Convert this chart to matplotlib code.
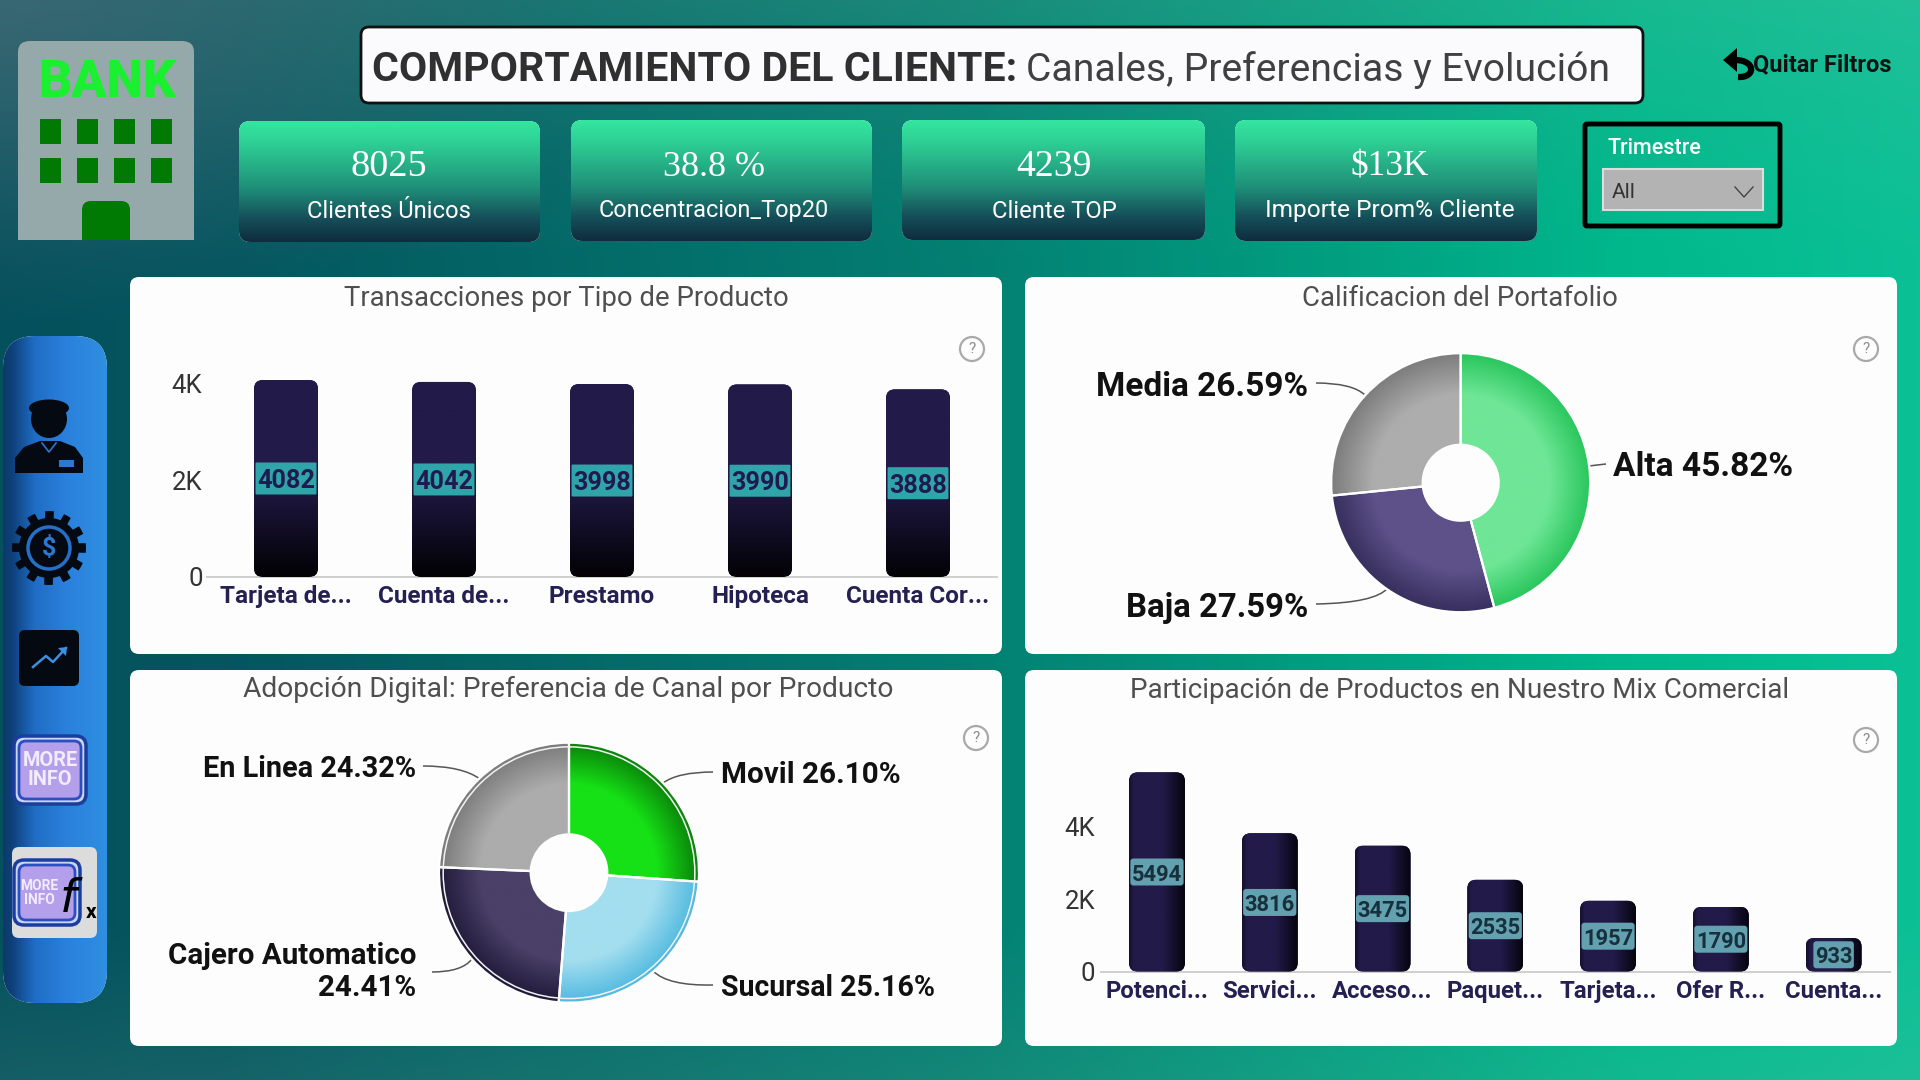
import numpy as np
import matplotlib
matplotlib.use("Agg")
import matplotlib.pyplot as plt
from matplotlib.patches import FancyBboxPatch, Circle, Ellipse, Polygon, PathPatch, Rectangle, Wedge
from matplotlib.path import Path
from matplotlib.colors import to_rgb

# ---------- data ----------
prod_cats = ["Tarjeta de...", "Cuenta de...", "Prestamo", "Hipoteca", "Cuenta Cor..."]
prod_vals = [4082, 4042, 3998, 3990, 3888]
mix_cats = ["Potenci...", "Servici...", "Acceso...", "Paquet...", "Tarjeta...", "Ofer R...", "Cuenta..."]
mix_vals = [5494, 3816, 3475, 2535, 1957, 1790, 933]
cal_names = ["Alta", "Baja", "Media"]
cal_vals = [45.82, 27.59, 26.59]
canal_names = ["Movil", "Sucursal", "Cajero Automatico", "En Linea"]
canal_vals = [26.10, 25.16, 24.41, 24.32]
kpi_values = ["8025", "38.8 %", "4239", "$13K"]
kpi_labels = ["Clientes Únicos", "Concentracion_Top20", "Cliente TOP", "Importe Prom% Cliente"]
y_ticks = [0, 2000, 4000]
y_labels = ["0", "2K", "4K"]

W, H = 1920, 1080
SANS = "Roboto"
YOFF = 3
fig = plt.figure(figsize=(W / 100, H / 100), dpi=100)
bg = fig.add_axes([0, 0, 1, 1])
bg.set_axis_off()


def rgb(c):
    return np.array(to_rgb(c))


def reset_bg():
    bg.set_xlim(0, W)
    bg.set_ylim(H, 0)


def size_for(s, width, weight="normal", family=SANS):
    t = bg.text(0, 0, s, fontsize=20, fontweight=weight, family=family)
    w = t.get_window_extent(fig.canvas.get_renderer()).width
    t.remove()
    return 20 * width / w


def T(x, y, s, **kw):
    kw.setdefault("va", "center")
    kw.setdefault("family", SANS)
    return bg.text(x, y + YOFF, s, **kw)


def stops(t, pts):
    xs = [p[0] for p in pts]
    cs = np.array([rgb(p[1]) for p in pts])
    return np.stack([np.interp(t, xs, cs[:, i]) for i in range(3)], axis=-1)


# background
xx, yy = np.meshgrid(np.linspace(0, 1, 480), np.linspace(0, 1, 270))
img = stops(xx, [(0, "#04505c"), (0.12, "#04565f"), (0.5, "#037f72"), (0.85, "#00b88c"), (1, "#0cc096")])
top = np.clip(1 - yy / 0.24, 0, 1)[..., None] ** 1.3
bot = np.clip((yy - 0.86) / 0.14, 0, 1)[..., None]
img = img + (np.array([0.55, 0.75, 0.65]) - img) * (0.16 * top + 0.12 * bot)
corner = np.clip(1 - np.hypot(xx / 0.3, yy / 0.3), 0, 1)[..., None]
img = img + (np.array([0.3, 0.42, 0.48]) - img) * 0.6 * corner
bg.imshow(np.clip(img, 0, 1), extent=[0, W, H, 0], aspect="auto", zorder=0)
reset_bg()


def rbox(x0, y0, x1, y1, r, fc="white", ec="none", lw=0, z=2):
    p = FancyBboxPatch((x0, y0), x1 - x0, y1 - y0, boxstyle=f"round,pad=0,rounding_size={r}",
                       fc=fc, ec=ec, lw=lw, zorder=z)
    bg.add_patch(p)
    return p


def grad_box(x0, y0, x1, y1, r, image, z=2):
    p = rbox(x0, y0, x1, y1, r, z=z)
    im = bg.imshow(image, extent=[x0, x1, y1, y0], aspect="auto", zorder=z + 0.1, interpolation="bilinear")
    im.set_clip_path(p)
    reset_bg()
    return p


# panels
PANEL = "#fdfdfd"
panels = [(130, 277, 1002, 654), (1025, 277, 1897, 654), (130, 670, 1002, 1046), (1025, 670, 1897, 1046)]
for p in panels:
    rbox(*p, 9, fc=PANEL, z=2)

# panel titles
TITLE_C = "#4f4f4f"
titles = [("Transacciones por Tipo de Producto", 566, 296, 443),
          ("Calificacion del Portafolio", 1460, 296, 315),
          ("Adopción Digital: Preferencia de Canal por Producto", 568, 686, 649),
          ("Participación de Productos en Nuestro Mix Comercial", 1460, 687, 660)]
for s, x, y, w in titles:
    T(x, y, s, ha="center", color=TITLE_C, fontsize=size_for(s, w), zorder=3)

# question marks
for x, y in [(972, 349), (1866, 349), (976, 738), (1866, 740)]:
    bg.add_patch(Circle((x, y), 12, fc="none", ec="#a9a9a9", lw=1.6, zorder=3))
    bg.text(x, y, "?", ha="center", va="center", color="#8a8a8a", fontsize=11, family=SANS, zorder=3)

# header title
rbox(361, 27, 1643, 103, 8, fc="#fbfbfd", ec="#111111", lw=2, z=3)
s1 = "COMPORTAMIENTO DEL CLIENTE:"
s2 = "Canales, Preferencias y Evolución"
T(372, 67, s1, ha="left", fontweight="bold", color="#303030", fontsize=size_for(s1, 643, "bold"), zorder=4)
T(1026, 67, s2, ha="left", color="#404040", fontsize=size_for(s2, 583), zorder=4)

# KPI cards
card_x = [(239, 540, 121, 242), (571, 872, 120, 241), (902, 1205, 120, 240), (1235, 1537, 120, 241)]
kpi_cx = [389, 714, 1054, 1390]
kpi_w = [(76, 163), (102, 229), (75, 125), (78, 249)]
t = np.linspace(0, 1, 200)[:, None] * np.ones((200, 2))
card_img = stops(t, [(0, "#34e69f"), (0.15, "#2fd497"), (0.55, "#1f9079"), (0.8, "#15505a"), (1, "#0f2c3e")])
for (x0, x1, y0, y1), cx, v, l, (wv, wl) in zip(card_x, kpi_cx, kpi_values, kpi_labels, kpi_w):
    grad_box(x0, y0, x1, y1, 11, card_img, z=3)
    T(cx, 164, v, ha="center", color="white", family="Liberation Serif",
      fontsize=size_for(v, wv, family="Liberation Serif"), zorder=5)
    T(cx, 208, l, ha="center", color="white", fontsize=size_for(l, wl), zorder=5)

# slicer
rbox(1585, 124, 1780, 226, 2, fc="none", ec="black", lw=3.5, z=3)
T(1608, 146, "Trimestre", ha="left", color="white", fontweight="medium",
  fontsize=size_for("Trimestre", 94, "medium"), zorder=4)
bg.add_patch(Rectangle((1603, 169), 160, 41, fc="#b3b3b3", ec="#dddddd", lw=1.5, zorder=3))
T(1612, 190, "All", ha="left", color="#333333", fontsize=15, zorder=4)
bg.plot([1735, 1744, 1753], [187, 197, 187], color="#444444", lw=1.0, zorder=4)

# clear filters
T(1753, 62, "Quitar Filtros", ha="left", fontweight="bold", color="#111111",
  fontsize=size_for("Quitar Filtros", 138, "bold"), zorder=4)
bg.add_patch(Polygon([[1723, 60], [1737, 48], [1737, 72]], fc="black", ec="none", zorder=4))
arc = Path([(1735, 60), (1756, 60), (1756, 78), (1738, 77)], [Path.MOVETO, Path.CURVE4, Path.CURVE4, Path.CURVE4])
bg.add_patch(PathPatch(arc, fc="none", ec="black", lw=4.5, zorder=4))

# bank icon
bp = Path([(18, 240), (18, 52), (18, 41), (30, 41), (182, 41), (194, 41), (194, 52), (194, 240), (18, 240)],
          [Path.MOVETO, Path.LINETO, Path.CURVE3, Path.CURVE3, Path.LINETO, Path.CURVE3, Path.CURVE3, Path.LINETO,
           Path.CLOSEPOLY])
bg.add_patch(PathPatch(bp, fc="#95a8aa", ec="none", zorder=2))
T(107, 80, "BANK", ha="center", color="#1af030", fontweight="black",
  fontsize=size_for("BANK", 138, "black"), zorder=3)
for wy in (119, 158):
    for wx in (40, 77, 114, 151):
        bg.add_patch(Rectangle((wx, wy), 21, 25, fc="#017a03", ec="none", zorder=3))
rbox(82, 201, 130, 250, 9, fc="#017a03", z=3).set_clip_path(Rectangle((0, 0), W, 240, transform=bg.transData))

# sidebar
t2 = np.linspace(0, 1, 200)[None, :] * np.ones((2, 200))
side = stops(t2, [(0, "#0c3a68"), (0.08, "#0e3f78"), (0.3, "#1f6cc4"), (0.6, "#2a80dc"), (1, "#2f8fe0")])
grad_box(3, 336, 107, 1003, 32, side, z=2)

ICON = "#050a12"
# person
bg.add_patch(Polygon([[15, 473], [15, 458], [24, 447], [40, 441], [60, 441], [75, 447], [83, 458], [83, 473]],
                     fc=ICON, ec="none", zorder=3))
bg.add_patch(Ellipse((49, 419), 36, 38, fc=ICON, ec="none", zorder=4))
bg.add_patch(Ellipse((49, 408), 40, 17, fc=ICON, ec="none", zorder=4))
bg.add_patch(Rectangle((59, 460), 15, 7, fc="#2b78d0", ec="none", zorder=5))
bg.plot([42, 49, 56], [443, 452, 443], color="#2b78d0", lw=1.2, zorder=5)
# gear
ang = np.linspace(0, 2 * np.pi, 241)[:-1]
rad = np.where(np.cos(12 * ang) > 0, 37, 30)
bg.add_patch(Polygon(np.c_[49 + rad * np.cos(ang), 548 + rad * np.sin(ang)], fc=ICON, ec="none", zorder=3))
bg.add_patch(Circle((49, 548), 21, fc=ICON, ec="#2470c8", lw=2.5, zorder=4))
bg.text(49, 548, "$", ha="center", va="center", color="#2b78d0", fontweight="bold", fontsize=18, family=SANS, zorder=5)
# trend icon
rbox(19, 630, 79, 686, 6, fc=ICON, z=3)
bg.plot([33, 46, 53, 66], [667, 656, 662, 648], color="#3d8fe0", lw=1.8, zorder=4)
bg.add_patch(Polygon([[67, 647], [58, 648], [66, 656]], fc="#3d8fe0", ec="none", zorder=4))


def more_info(x0, y0, x1, y1, txt_w, cx):
    rbox(x0, y0, x1, y1, 10, fc="#c9d6f5", ec="#1b3e9e", lw=2.5, z=4)
    rbox(x0 + 5, y0 + 5, x1 - 5, y1 - 5, 7, fc="#b4a0ea", ec="#2c4fc0", lw=2, z=4)
    bg.text(cx, (y0 + y1) / 2, "MORE\nINFO", ha="center", va="center", color="#f3ecff",
            fontweight="bold", fontsize=size_for("MORE", txt_w, "bold"), linespacing=1.0, family=SANS, zorder=5)


more_info(14, 736, 86, 804, 55, 50)
rbox(12, 847, 97, 938, 7, fc="#dcdcdc", z=3)
more_info(14, 860, 80, 925, 38, 39)
bg.text(71, 900, "$f$", ha="center", va="center", color="black", fontsize=34, zorder=6)
bg.text(91, 913, "x", ha="center", va="center", color="black", fontweight="bold", fontsize=15, family=SANS, zorder=6)


# bars
def bar_chart(left, right, base, pxu, ymax, cats, vals, width_frac, r, grad, box_fc, box_r, box_h, box_pad, txt_c,
              num_fs, cat_fs, tick_right):
    top_y = base - ymax * pxu
    ax = fig.add_axes([left / W, 1 - base / H, (right - left) / W, (base - top_y) / H])
    ax.patch.set_alpha(0)
    for sp in ("top", "left", "right"):
        ax.spines[sp].set_visible(False)
    ax.spines["bottom"].set_color("#cfcfcf")
    ax.spines["bottom"].set_linewidth(1.4)
    x = np.arange(len(vals))
    bars = ax.bar(x, vals, width=width_frac, color="#221a48", zorder=2)
    ax.set_xlim(-0.5, len(vals) - 0.5)
    ax.set_ylim(0, ymax)
    ax.set_yticks(y_ticks, y_labels, fontsize=18.5, color="#333333", family=SANS)
    ax.set_xticks(x, cats, fontsize=cat_fs, fontweight="bold", color="#252052", family=SANS)
    ax.tick_params(axis="both", length=0)
    ax.tick_params(axis="x", pad=6)
    ax.tick_params(axis="y", pad=(left - tick_right) * 0.72)
    pxx = (right - left) / len(vals)
    aspect = (1 / pxu) / (1 / pxx)
    rend = fig.canvas.get_renderer()
    for b, v in zip(bars, vals):
        clip = FancyBboxPatch((b.get_x(), 0), b.get_width(), v,
                              boxstyle=f"round,pad=0,rounding_size={r / pxx}", mutation_aspect=aspect,
                              transform=ax.transData, fc="none", ec="none")
        ax.add_patch(clip)
        b.set_clip_path(clip)
        im = ax.imshow(grad, extent=[b.get_x(), b.get_x() + b.get_width(), 0, v], aspect="auto", zorder=3,
                       interpolation="bilinear", origin="upper")
        im.set_clip_path(clip)
        cx = b.get_x() + b.get_width() / 2
        lab = ax.text(cx, v / 2 - 2.5 / pxu, str(v), ha="center", va="center", color=txt_c,
                      fontweight="bold", fontsize=num_fs, family=SANS, zorder=5)
        tw = lab.get_window_extent(rend).width
        bw = (tw + box_pad) / pxx
        bh = box_h / pxu
        ax.add_patch(FancyBboxPatch((cx - bw / 2, v / 2 - bh / 2), bw, bh,
                                    boxstyle=f"round,pad=0,rounding_size={box_r / pxx}", mutation_aspect=aspect,
                                    fc=box_fc, ec="none", zorder=4))
    ax.set_xlim(-0.5, len(vals) - 0.5)
    ax.set_ylim(0, ymax)
    return ax


vg = stops(np.linspace(0, 1, 200)[:, None] * np.ones((200, 2)),
           [(0, "#221a48"), (0.5, "#221a48"), (1, "#020104")])
hg = stops(np.linspace(0, 1, 200)[None, :] * np.ones((2, 200)),
           [(0, "#140f2c"), (0.08, "#221a48"), (0.6, "#221a48"), (1, "#06040f")])
bar_chart(207, 997, 577, 197 / 4082, 4400, prod_cats, prod_vals, 64 / 158, 9, vg, "#2fa5aa", 1, 32, 3,
          "#1f1a50", size_for("4082", 58, "bold"), size_for(prod_cats[0], 131, "bold"), 202.5)
bar_chart(1100.6, 1890, 971.7, 199.4 / 5494, 6000, mix_cats, mix_vals, 56 / 112.8, 9, hg, "#63a0b0", 3, 27, 3,
          "#16303c", size_for("5494", 50, "bold"), size_for(mix_cats[0], 103, "bold"), 1095)


# donuts
def donut(cx, cy, R, r, vals, cols, ring):
    m = 1.04
    ax = fig.add_axes([(cx - R * m) / W, 1 - (cy + R * m) / H, 2 * R * m / W, 2 * R * m / H])
    wedges, _ = ax.pie(vals, startangle=90, counterclock=False, radius=1,
                       colors=[c[0] for c in cols], wedgeprops=dict(width=1 - r / R, ec="white", lw=1.6))
    g = np.linspace(-1.02, 1.02, 520)
    gx, gy = np.meshgrid(g, g)
    rr = np.hypot(gx, gy)
    for w, (inner, outer) in zip(wedges, cols):
        im_arr = stops(rr, [(0, inner), (0.68, inner), (0.98, outer), (1.1, outer)])
        im = ax.imshow(im_arr, extent=[-1.02, 1.02, -1.02, 1.02], zorder=w.get_zorder() + 0.1, origin="lower")
        im.set_clip_path(w)
        sep = Wedge(w.center, w.r, w.theta1, w.theta2, width=w.width, fc="none", ec="white",
                    lw=1.6, zorder=w.get_zorder() + 0.2)
        ax.add_patch(sep)
    if ring:
        ax.add_patch(Circle((0, 0), 0.968, fc="none", ec="#f2f2f2", lw=1.1, zorder=5))
    ax.add_patch(Circle((0, 0), r / R, fc=PANEL, ec="none", zorder=6))
    ax.set_xlim(-m, m)
    ax.set_ylim(-m, m)
    ax.set_aspect("equal")
    ax.set_axis_off()
    return ax


donut(1460.7, 482.7, 129.5, 38, cal_vals,
      [("#6ee696", "#2cc75f"), ("#5d5189", "#393160"), ("#adadad", "#7f7f7f")], False)
donut(569, 872.7, 130, 38.3, canal_vals,
      [("#16e016", "#0a860a"), ("#a3deef", "#55bbe0"), ("#4a4068", "#221c3c"), ("#acacac", "#7c7c7c")], True)


def leader(p0, p1, p2):
    pth = Path([p0, p1, p2], [Path.MOVETO, Path.CURVE3, Path.CURVE3])
    bg.add_patch(PathPatch(pth, fc="none", ec="#555555", lw=1.1, zorder=3))


def pie_label(s, x, y, ha, w, color="#111111"):
    probe = s.split("\n")[0]
    T(x, y, s, ha=ha, fontweight="bold", color=color, fontsize=size_for(probe, w, "bold"), zorder=4, linespacing=1.17)


pie_label(f"{cal_names[2]} {cal_vals[2]:.2f}%", 1308, 384, "right", 212)
pie_label(f"{cal_names[0]} {cal_vals[0]:.2f}%", 1613, 464, "left", 180)
pie_label(f"{cal_names[1]} {cal_vals[1]:.2f}%", 1308, 605, "right", 182)
pie_label(f"{canal_names[3]} {canal_vals[3]:.2f}%", 416, 766, "right", 213)
pie_label(f"{canal_names[0]} {canal_vals[0]:.2f}%", 721, 772, "left", 179)
pie_label(f"{canal_names[2]}\n{canal_vals[2]:.2f}%", 416, 969, "right", 247)
pie_label(f"{canal_names[1]} {canal_vals[1]:.2f}%", 721, 985, "left", 214)

leader((1316, 383), (1352, 383), (1365, 395))
leader((1606, 464), (1597, 465), (1589, 466))
leader((1316, 604), (1375, 603), (1388, 588))
leader((423, 766), (462, 766), (480, 779))
leader((713, 772), (678, 772), (663, 783))
leader((432, 972), (462, 972), (472, 959))
leader((713, 985), (668, 986), (653, 971))

reset_bg()
fig.savefig("out.png", dpi=100)
